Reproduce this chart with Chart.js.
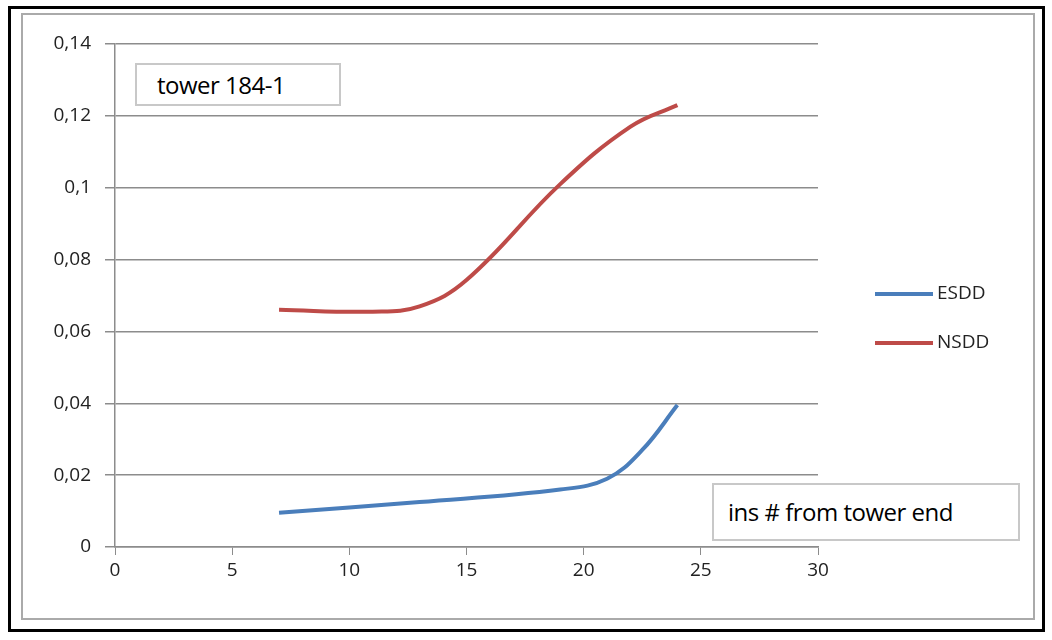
<!DOCTYPE html>
<html><head><meta charset="utf-8">
<script src="https://cdn.jsdelivr.net/npm/chart.js@4"></script>
<style>
body{margin:0;background:#fff;font-family:"Open Sans","Liberation Sans",Arial,sans-serif;}
#wrap{position:relative;width:1052px;height:640px;}
canvas{position:absolute;left:0;top:0;}
.box{position:absolute;border:2px solid #c8c8c8;background:#fff;font-size:24px;color:#000;box-sizing:border-box;letter-spacing:-0.5px;}
.frame1{position:absolute;left:8px;top:6px;width:1037px;height:626px;border:3px solid #000;box-sizing:border-box;}
.frame2{position:absolute;left:21px;top:13px;width:1014px;height:607px;border:2px solid #aaa;box-sizing:border-box;}
.leg{position:absolute;font-size:19px;color:#222;}
.leg span{display:inline-block;width:58px;height:4px;vertical-align:middle;margin-right:4px;}
</style></head><body>
<div id="wrap">
<div class="frame1"></div><div class="frame2"></div>
<canvas id="c" width="1052" height="640"></canvas>
<div class="box" style="left:135px;top:63px;width:206px;height:43px;padding:3px 0 0 20px;">tower 184-1</div>
<div class="box" style="left:712px;top:483px;width:308px;height:58px;padding:10px 0 0 14px;">ins # from tower end</div>
<div class="leg" style="left:875px;top:279px;"><span style="background:#4a7ebb"></span>ESDD</div>
<div class="leg" style="left:875px;top:328px;"><span style="background:#be4b48"></span>NSDD</div>
</div>
<script>
const esddX=[7,13,19,21,22.5,24];
const esddY=[0.0095,0.0125,0.016,0.019,0.027,0.0395];
const nsddX=[7,11,13,15,19,22,24];
const nsddY=[0.066,0.0655,0.067,0.0743,0.101,0.117,0.123];
const xTicks=[0,5,10,15,20,25,30];
const yTicks=[0,0.02,0.04,0.06,0.08,0.1,0.12,0.14];
const pts=(xs,ys)=>xs.map((x,i)=>({x,y:ys[i]}));
const tf={size:19,family:'"Open Sans","Liberation Sans",Arial'};
new Chart(document.getElementById('c'),{
type:'line',
data:{datasets:[
{label:'ESDD',data:pts(esddX,esddY),borderColor:'#4a7ebb',borderWidth:4,pointRadius:0,tension:0.4,fill:false},
{label:'NSDD',data:pts(nsddX,nsddY),borderColor:'#be4b48',borderWidth:4,pointRadius:0,tension:0.4,fill:false}]},
options:{responsive:false,animation:false,
layout:{padding:{left:0,right:234,top:44,bottom:0}},
plugins:{legend:{display:false},tooltip:{enabled:false}},
scales:{
x:{type:'linear',min:0,max:30,
 afterBuildTicks:a=>{a.ticks=xTicks.map(v=>({value:v}));},
 afterFit:a=>{a.height=93;},
 grid:{drawOnChartArea:false,color:'#8c8c8c',tickLength:8},
 border:{color:'#8c8c8c',width:1.5},
 ticks:{color:'#222',font:tf,padding:4,maxRotation:0}},
y:{min:0,max:0.14,
 afterBuildTicks:a=>{a.ticks=yTicks.map(v=>({value:v}));},
 afterFit:a=>{a.width=115;},
 grid:{color:'#8c8c8c',lineWidth:1.5,tickLength:10},
 border:{color:'#8c8c8c',width:1.5},
 ticks:{color:'#222',font:tf,padding:14,
  callback:v=>String(Math.round(v*100)/100).replace('.',',')}}
}}});
</script></body></html>
